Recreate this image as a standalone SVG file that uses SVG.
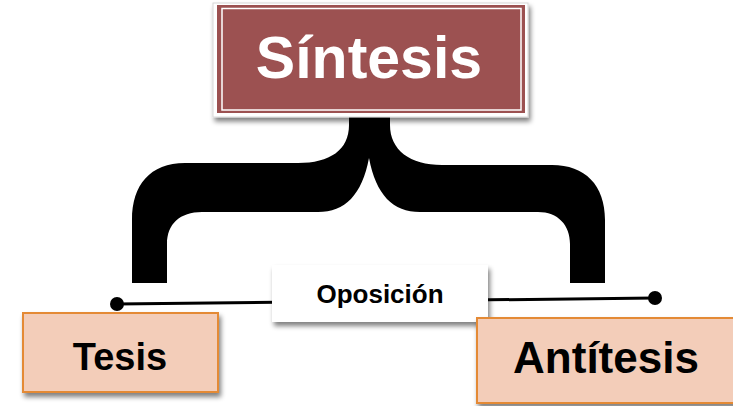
<svg xmlns="http://www.w3.org/2000/svg" width="733" height="406" viewBox="0 0 733 406">
<defs>
<filter id="sh" x="-10%" y="-10%" width="130%" height="140%">
<feGaussianBlur in="SourceAlpha" stdDeviation="2.5"/>
<feOffset dx="2" dy="4" result="b"/>
<feComponentTransfer><feFuncA type="linear" slope="0.5"/></feComponentTransfer>
<feMerge><feMergeNode/><feMergeNode in="SourceGraphic"/></feMerge>
</filter>
</defs>
<style>
.t{font-family:"Liberation Sans",Arial,sans-serif;font-weight:bold;text-anchor:middle}
.peach{fill:#f3cdb9;stroke:#e48a35;stroke-width:2}
</style>
<rect width="733" height="406" fill="#ffffff"/>
<g id="connectors">
<path id="brace" fill="#000" d="M349,112 L349,125 C349,150 330,163 298,163 L185,163 C150,163 132,185 132,220 L132,283 L167,283 L167,244 C167,224 180,212 202,212 L318,212 C345,212 362,195 369,158 C376,195 393,212 420,212 L538,212 C558,212 570,225 570,244 L570,283 L605,283 L605,220 C605,185 585,165 552,165 L442,165 C410,165 390,150 390,125 L390,112 Z"/>
<line x1="117" y1="304" x2="655" y2="298" stroke="#000" stroke-width="3"/>
<circle cx="117" cy="304" r="7" fill="#000"/>
<circle cx="655" cy="298" r="7" fill="#000"/>
</g>
<g id="sintesis">
<rect x="213" y="3" width="315" height="114" fill="#fff" stroke="#d8d8d8" stroke-width="1" filter="url(#sh)"/>
<rect x="217" y="5" width="308" height="108" fill="#9c5151"/>
<rect x="222" y="8.5" width="299" height="101.5" fill="none" stroke="#fff" stroke-width="1.5"/>
<text class="t" x="369" y="78" font-size="59" fill="#fff">Síntesis</text>
</g>
<g id="oposicion">
<rect x="272" y="265" width="216" height="57" fill="#fff" filter="url(#sh)"/>
<text class="t" x="380" y="303" font-size="26" fill="#000">Oposición</text>
</g>
<g id="tesis">
<rect class="peach" x="23" y="313" width="195" height="79" filter="url(#sh)"/>
<text class="t" x="120" y="370" font-size="38" fill="#000">Tesis</text>
</g>
<g id="antitesis">
<rect class="peach" x="477" y="318" width="270" height="85" filter="url(#sh)"/>
<text class="t" x="606" y="373" font-size="44" fill="#000">Antítesis</text>
</g>
</svg>
